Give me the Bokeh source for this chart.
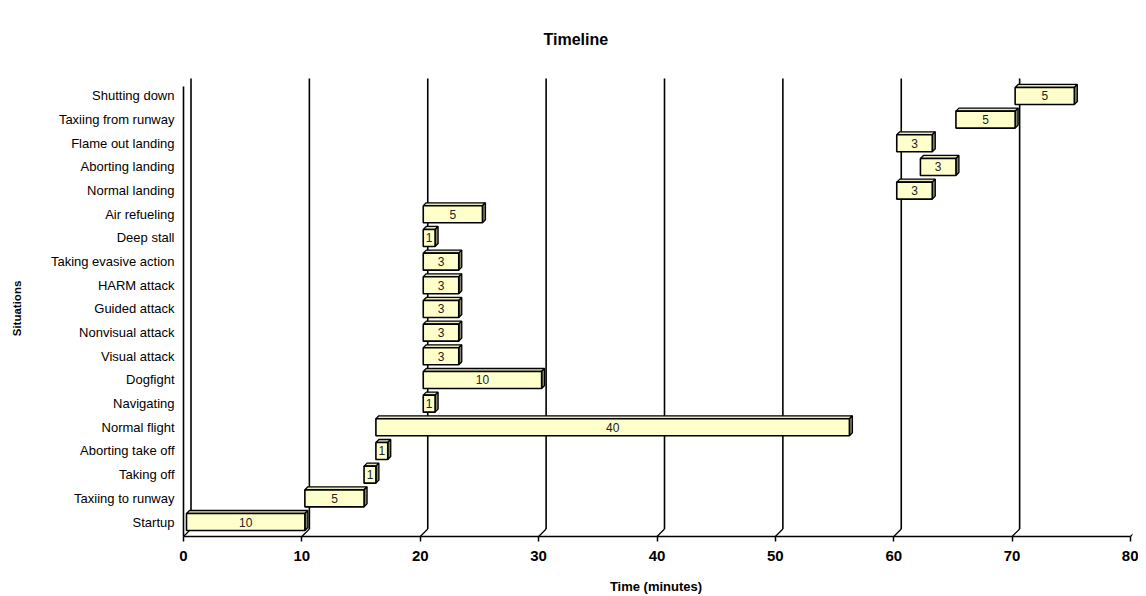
from bokeh.plotting import figure
from bokeh.models import Range1d, FixedTicker, ColumnDataSource
from bokeh.embed import file_html
from bokeh.resources import INLINE

# ---- data ----
situations = ["Startup", "Taxiing to runway", "Taking off", "Aborting take off",
              "Normal flight", "Navigating", "Dogfight", "Visual attack",
              "Nonvisual attack", "Guided attack", "HARM attack",
              "Taking evasive action", "Deep stall", "Air refueling",
              "Normal landing", "Aborting landing", "Flame out landing",
              "Taxiing from runway", "Shutting down"]
start_min = [0, 10, 15, 16, 16, 20, 20, 20, 20, 20, 20, 20, 20, 20, 60, 62, 60, 65, 70]
duration_min = [10, 5, 1, 1, 40, 1, 10, 3, 3, 3, 3, 3, 1, 5, 3, 3, 3, 5, 5]
x_ticks = [0, 10, 20, 30, 40, 50, 60, 70, 80]

# ---- layout (pixels) ----
W, H = 1138, 596
FL, FR, FT, FB = 179, 1132, 76, 540      # frame edges in figure px
FW, FH = FR - FL, FB - FT
X0_PX = 4                                # x=0 is 4px right of frame left
SX = (FW - X0_PX - 2) / 80.0
x_start = -X0_PX / SX
x_end = x_start + FW / SX
SY = 23.67                               # px per category
y_start = -18.5 / SY                     # Startup centre 18.5px above frame bottom
y_end = y_start + FH / SY

front_bottom = y_start + 4 / SY
front_top = y_start + (FB - 86) / SY
back_top = y_start + (FB - 78) / SY
back_d = 7.5
bdx, bdy = back_d / SX, back_d / SY

p = figure(width=W, height=H, output_backend="svg", toolbar_location=None,
           x_range=Range1d(x_start, x_end), y_range=Range1d(y_start, y_end),
           min_border_left=FL, min_border_right=W - FR,
           min_border_top=FT, min_border_bottom=H - FB,
           title="Timeline")
p.outline_line_color = None
p.grid.visible = False
p.background_fill_color = "white"
p.border_fill_color = "white"

p.title.text_font = "Liberation Sans"
p.title.text_font_size = "16px"
p.title.text_font_style = "bold"
p.title.text_color = "black"
p.title.align = "left"
p.title.offset = 364
p.title.standoff = 57

# x axis
xa = p.xaxis[0]
xa.ticker = FixedTicker(ticks=x_ticks)
xa.minor_tick_line_color = None
xa.axis_line_color = None
xa.major_tick_in = 4
xa.major_tick_out = 1
xa.major_tick_line_width = 1.5
xa.major_label_standoff = 9
xa.major_label_text_font = "Liberation Sans"
xa.major_label_text_font_size = "15px"
xa.major_label_text_font_style = "bold"
xa.major_label_text_color = "black"
xa.axis_label = "Time (minutes)"
xa.axis_label_text_font = "Liberation Sans"
xa.axis_label_text_font_size = "13px"
xa.axis_label_text_font_style = "bold"
xa.axis_label_text_color = "black"
xa.axis_label_standoff = 15

# y axis
ya = p.yaxis[0]
ya.ticker = FixedTicker(ticks=list(range(len(situations))))
ya.major_label_overrides = {i: s for i, s in enumerate(situations)}
ya.axis_line_color = None
ya.major_tick_line_color = None
ya.minor_tick_line_color = None
ya.major_tick_in = 0
ya.major_tick_out = 0
ya.major_label_standoff = 5
ya.major_label_text_font = "Liberation Sans"
ya.major_label_text_font_size = "13px"
ya.major_label_text_color = "black"
ya.axis_label = "Situations"
ya.axis_label_text_font = "Liberation Sans"
ya.axis_label_text_font_size = "11.5px"
ya.axis_label_text_font_style = "bold"
ya.axis_label_text_color = "black"
ya.axis_label_standoff = 25

# back-plane gridlines and floor edges
gx = [v + bdx for v in x_ticks[:-1]]
p.segment(x0=gx, y0=[front_bottom + bdy] * len(gx), x1=gx, y1=[back_top] * len(gx),
          line_color="black", line_width=1.6)
p.segment(x0=x_ticks, y0=[front_bottom] * len(x_ticks),
          x1=[v + bdx for v in x_ticks], y1=[front_bottom + bdy] * len(x_ticks),
          line_color="black", line_width=1.2)
# front axes
p.segment(x0=[0, 0], y0=[front_bottom, front_bottom], x1=[0, 80],
          y1=[front_top, front_bottom], line_color="black", line_width=1.6)

# bars (3D boxes)
off = 3 / SX
dx, dy = 3 / SX, 3 / SY
hh = 8.5 / SY
xs0 = [s + off for s in start_min]
xs1 = [s + d + off for s, d in zip(start_min, duration_min)]
ys = list(range(len(situations)))
top_x, top_y, side_x, side_y = [], [], [], []
for a, b, c in zip(xs0, xs1, ys):
    top_x.append([a, a + dx, b + dx, b])
    top_y.append([c + hh, c + hh + dy, c + hh + dy, c + hh])
    side_x.append([b, b, b + dx, b + dx])
    side_y.append([c - hh, c + hh, c + hh + dy, c - hh + dy])

p.patches(top_x, top_y, fill_color="#E8E8BC", line_color="black", line_width=1.3)
p.patches(side_x, side_y, fill_color="#84846A", line_color="black", line_width=1.3)
src = ColumnDataSource(dict(l=xs0, r=xs1, b=[c - hh for c in ys], t=[c + hh for c in ys],
                            xm=[(a + b) / 2 for a, b in zip(xs0, xs1)], y=ys,
                            lab=[str(d) for d in duration_min]))
p.quad(left="l", right="r", bottom="b", top="t", source=src,
       fill_color="#FFFFCC", line_color="black", line_width=1.6)
p.text(x="xm", y="y", text="lab", source=src, text_align="center",
       text_baseline="middle", text_font_size="12px", text_color="#222222",
       text_font={"value": "Liberation Sans"})

open("out.html", "w").write(file_html(p, INLINE))
